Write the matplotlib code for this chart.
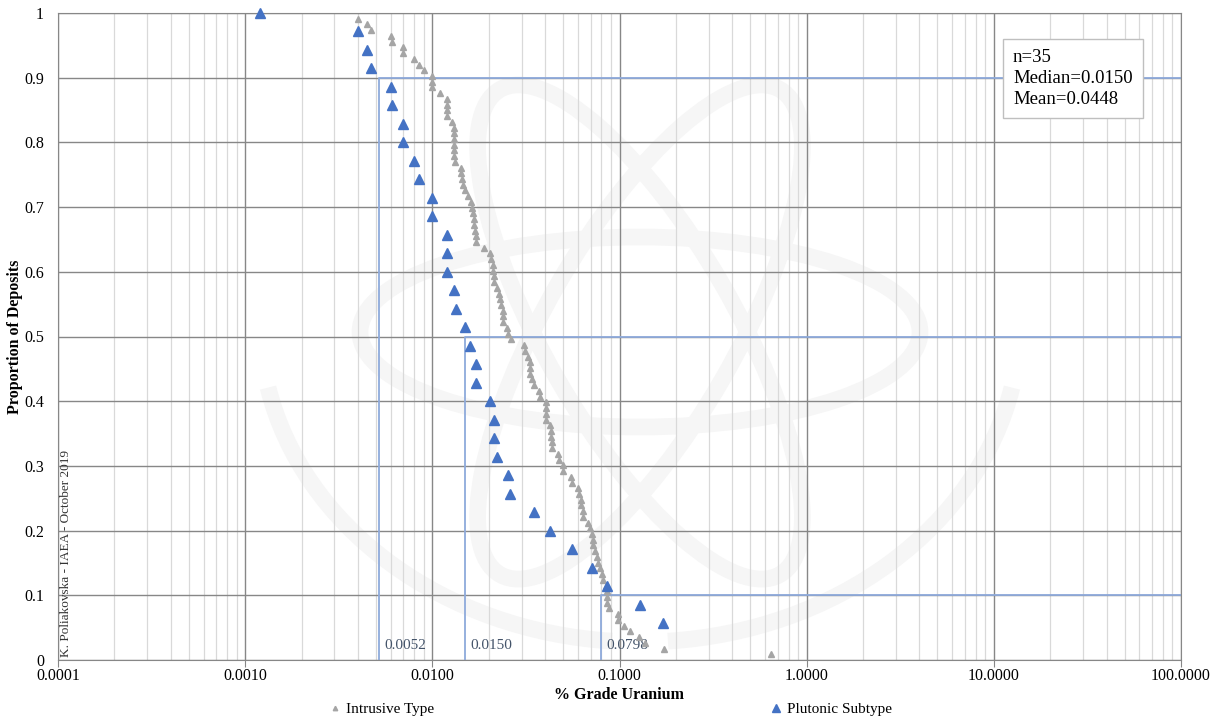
import matplotlib.pyplot as plt
from matplotlib.patches import Ellipse, Arc
from matplotlib.transforms import IdentityTransform
from matplotlib.ticker import FixedLocator, LogLocator, NullFormatter
import numpy as np

plt.rcParams['font.family'] = ['Liberation Serif', 'DejaVu Serif']

# % U grade per deposit, sorted from lowest to highest
intrusive_grade = [
    0.0012, 0.0040, 0.0045, 0.0047, 0.0060, 0.0061, 0.0070, 0.0070, 0.0080, 0.0085,
    0.0090, 0.0100, 0.0100, 0.0100, 0.0110, 0.0120, 0.0120, 0.0120, 0.0120, 0.0127,
    0.0130, 0.0130, 0.0130, 0.0130, 0.0130, 0.0131, 0.0132, 0.0142, 0.0142, 0.0144,
    0.0145, 0.0149, 0.0156, 0.0160, 0.0163, 0.0165, 0.0166, 0.0167, 0.0169, 0.0171,
    0.0171, 0.0189, 0.0204, 0.0205, 0.0210, 0.0212, 0.0213, 0.0214, 0.0221, 0.0226,
    0.0230, 0.0233, 0.0239, 0.0239, 0.0239, 0.0250, 0.0255, 0.0262, 0.0310, 0.0313,
    0.0323, 0.0333, 0.0333, 0.0333, 0.0340, 0.0349, 0.0372, 0.0376, 0.0404, 0.0404,
    0.0404, 0.0404, 0.0426, 0.0429, 0.0431, 0.0435, 0.0435, 0.0471, 0.0477, 0.0498,
    0.0501, 0.0551, 0.0560, 0.0603, 0.0609, 0.0622, 0.0624, 0.0637, 0.0642, 0.0682,
    0.0697, 0.0712, 0.0720, 0.0726, 0.0741, 0.0757, 0.0772, 0.0788, 0.0805, 0.0821,
    0.0849, 0.0856, 0.0856, 0.0856, 0.0884, 0.0976, 0.0981, 0.1060, 0.1134, 0.1275,
    0.1373, 0.1720, 0.6464,
]

plutonic_grade = [
    0.0012, 0.0040, 0.0045, 0.0047, 0.0060, 0.0061, 0.0070, 0.0070, 0.0080, 0.0085,
    0.0100, 0.0100, 0.0120, 0.0120, 0.0120, 0.0130, 0.0133, 0.0150, 0.0159, 0.0171,
    0.0171, 0.0204, 0.0213, 0.0213, 0.0221, 0.0254, 0.0260, 0.0349, 0.0426, 0.0558,
    0.0717, 0.0856, 0.1280, 0.1710,
]
plutonic_n = 35

# summary stats for the plutonic subtype (quantile, grade)
quantile_props = [0.9, 0.5, 0.1]
quantile_grades = [0.0052, 0.0150, 0.0798]
median_grade = 0.0150
mean_grade = 0.0448

x_ticks = [0.0001, 0.001, 0.01, 0.1, 1, 10, 100]
y_ticks = [0, 0.1, 0.2, 0.3, 0.4, 0.5, 0.6, 0.7, 0.8, 0.9, 1]

# proportion of deposits with grade >= x
n_int = len(intrusive_grade)
intrusive_prop = [(n_int - i) / n_int for i in range(n_int)]
plutonic_prop = [(plutonic_n - i) / plutonic_n for i in range(len(plutonic_grade))]

fig = plt.figure(figsize=(12.16, 7.22), dpi=100)
ax = fig.add_axes([58 / 1216, 1 - 660 / 722, 1123 / 1216, 647 / 722])

# faint logo in the background
wm = dict(transform=IdentityTransform(), fill=False, ec='#f6f6f6', lw=12, zorder=0.1)
for ang in (0, 60, -60):
    ax.add_patch(Ellipse((640, 390), 560, 190, angle=ang, **wm))
ax.add_patch(Arc((640, 400), 760, 640, theta1=190, theta2=265, **wm))
ax.add_patch(Arc((640, 400), 760, 640, theta1=275, theta2=350, **wm))

ax.set_xscale('log')
ax.set_xlim(0.0001, 100)
ax.set_ylim(0, 1)

ax.xaxis.set_major_locator(FixedLocator(x_ticks))
ax.set_xticklabels(['%.4f' % v for v in x_ticks])
ax.xaxis.set_minor_locator(LogLocator(base=10, subs=np.arange(2, 10)))
ax.xaxis.set_minor_formatter(NullFormatter())
ax.set_yticks(y_ticks)
ax.set_yticklabels(['%g' % v for v in y_ticks])

ax.set_axisbelow(True)
ax.grid(True, which='major', color='#878787', lw=1.0)
ax.grid(True, which='minor', axis='x', color='#d9d9d9', lw=0.9)
for s in ax.spines.values():
    s.set_color('#878787')
ax.tick_params(axis='x', which='major', length=5, color='#878787', labelsize=11.5, pad=1)
ax.tick_params(axis='x', which='minor', length=0)
ax.tick_params(axis='y', length=0, labelsize=11.5, pad=10)

# quantile steps
for p, g in zip(quantile_props, quantile_grades):
    ax.plot([g, g, 100], [0, p, p], color='#8eaadb', lw=1.3, zorder=2, clip_on=False)
    ax.annotate('%.4f' % g, (g, 0.0), xytext=(4, 6), textcoords='offset points',
                fontsize=11, color='#44546a', ha='left', va='bottom')

ax.plot(intrusive_grade, intrusive_prop, ls='none', marker='^', ms=4,
        color='#a5a5a5', mec='#a5a5a5', label='Intrusive Type', zorder=3, clip_on=False)
ax.plot(plutonic_grade, plutonic_prop, ls='none', marker='^', ms=7,
        color='#4472c4', mec='#4472c4', label='Plutonic Subtype', zorder=4, clip_on=False)

ax.text(0.8504, 0.944, 'n=%d\nMedian=%.4f\nMean=%.4f' % (plutonic_n, median_grade, mean_grade),
        transform=ax.transAxes, fontsize=13.5, va='top', ha='left', linespacing=1.3,
        bbox=dict(boxstyle='square,pad=0.55', fc='white', ec='#bfbfbf', lw=1), zorder=5)

ax.text(0.0068, 0.004, 'K. Poliakovska - IAEA - October 2019', transform=ax.transAxes,
        rotation=90, ha='center', va='bottom', fontsize=9.5, color='#333333')

ax.set_xlabel('% Grade Uranium', fontsize=11.5, fontweight='bold')
ax.xaxis.set_label_coords(0.5, -0.042)
ax.set_ylabel('Proportion of Deposits', fontsize=11.5, fontweight='bold')
ax.yaxis.set_label_coords(-0.031, 0.5)

fig.legend(loc='center', bbox_to_anchor=(0.502, 1 - 709 / 722), ncol=2, frameon=False,
           fontsize=11, columnspacing=22, handlelength=0.8, handletextpad=0.3,
           markerscale=0.8)

fig.savefig('out.png', dpi=100)
